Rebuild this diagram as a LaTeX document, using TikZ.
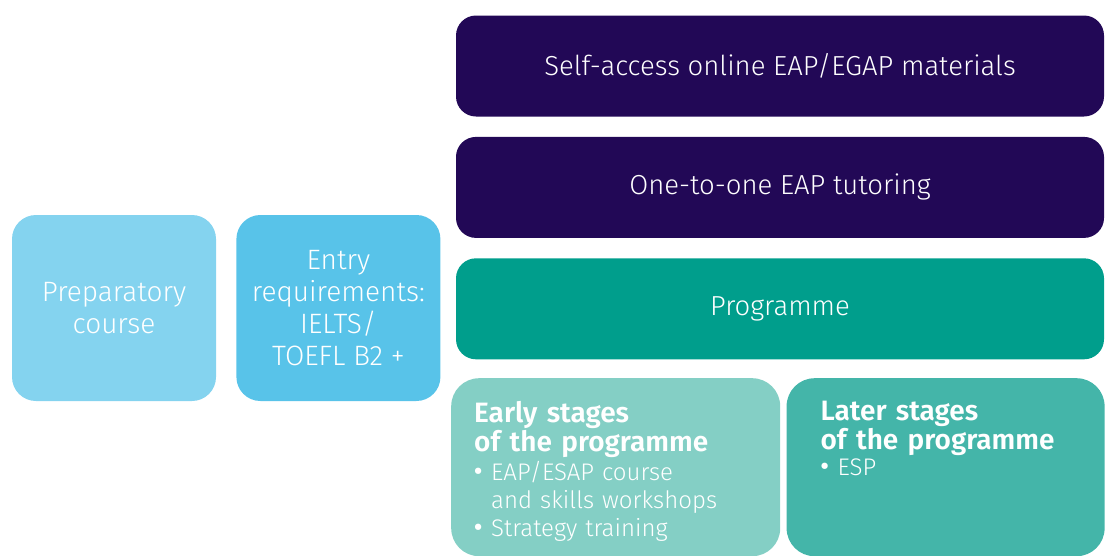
\documentclass[tikz,border=0pt]{standalone}
\usepackage{fontspec}
\setmainfont{Fira Sans}[UprightFont=* Light, BoldFont=* SemiBold]
\usepackage{xcolor}
\usetikzlibrary{positioning}

\definecolor{prepblue}{HTML}{84D3EF}
\definecolor{entryblue}{HTML}{58C3E9}
\definecolor{darkpurple}{HTML}{220856}
\definecolor{progteal}{HTML}{009E8C}
\definecolor{earlyteal}{HTML}{84CFC5}
\definecolor{laterteal}{HTML}{44B5A9}

\newcommand{\stagebullet}{\makebox[17pt][l]{\bfseries\raisebox{1pt}{•}}}

\begin{document}
\begin{tikzpicture}[
    x=1pt, y=1pt,
    node distance=20pt and 20pt,
    box/.style={rectangle, text=white, align=center, inner sep=0pt},
    sidebox/.style={box, minimum width=204pt, minimum height=186pt, rounded corners=24pt, font=\fontsize{28}{32}\selectfont},
    widebox/.style={box, fill=darkpurple, minimum width=648pt, minimum height=101pt, rounded corners=20pt, font=\fontsize{27.5}{32}\selectfont},
    stagebox/.style={box, minimum height=178pt, rounded corners=28pt},
    headtext/.style={text=white, text width=300pt, align=left, inner sep=0pt, font=\fontsize{28}{29}\selectfont\bfseries},
    listtext/.style={text=white, text width=300pt, align=left, inner sep=0pt, font=\fontsize{24}{28}\selectfont}
]
\useasboundingbox (0,0) rectangle (1105,-555);
\clip (0,0) rectangle (1105,-555);

% Entry route
\node[sidebox, fill=prepblue] (prep) at (114,-308) {Preparatory\\course};
\node[sidebox, fill=entryblue, right=of prep] (entry) {Entry\\requirements:\\IELTS/\\TOEFL B2 +};

% Support layers
\node[widebox] (selfaccess) at (780,-66) {Self-access online EAP/EGAP materials};
\node[widebox, below=of selfaccess] (tutoring) {One-to-one EAP tutoring};
\node[widebox, fill=progteal, below=of tutoring] (programme) {Programme};

% Stages
\node[stagebox, fill=earlyteal, minimum width=329pt, anchor=north west] (early) at (451,-378) {};
\node[stagebox, fill=laterteal, minimum width=318pt, right=6pt of early] (later) {};

\node[headtext, anchor=north west] (earlyhead) at ([shift={(23,-23)}]early.north west) {Early stages\\of the programme};
\node[listtext, anchor=north west] (earlylist) at ([yshift=-3pt]earlyhead.south west)
  {\stagebullet EAP/ESAP course\\\hspace*{17pt}and skills workshops\\\stagebullet Strategy training};

\node[headtext, anchor=north west] (laterhead) at ([shift={(34,-23)}]later.north west) {Later stages\\of the programme};
\node[listtext, anchor=north west] (laterlist) at ([yshift=-3pt]laterhead.south west)
  {\stagebullet ESP};

\end{tikzpicture}
\end{document}
